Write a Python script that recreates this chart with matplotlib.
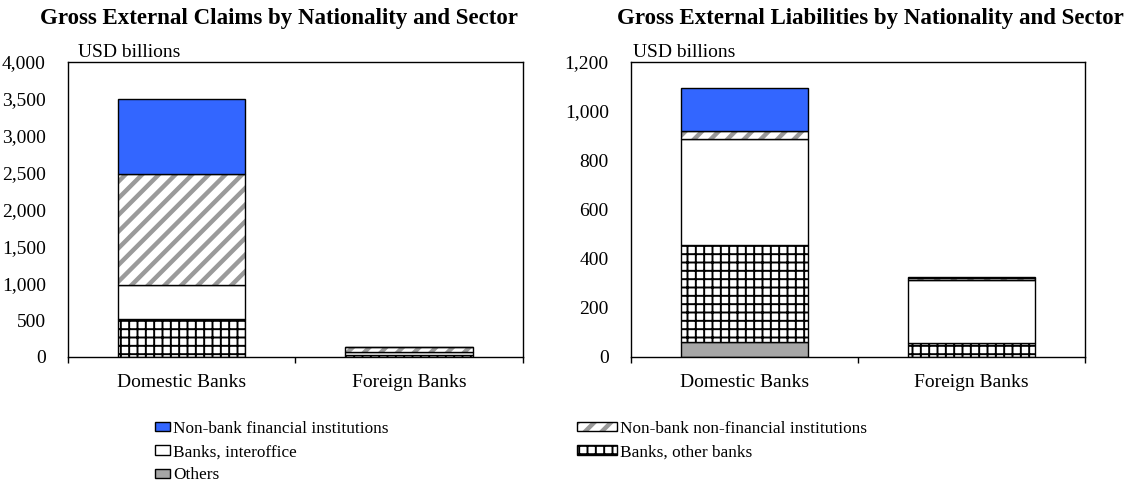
import matplotlib.pyplot as plt
from matplotlib.patches import Patch
import numpy as np

plt.rcParams['font.family'] = ['Liberation Serif', 'DejaVu Serif']

banks = ['Domestic Banks', 'Foreign Banks']
sectors = ['Others', 'Banks, other banks', 'Banks, interoffice',
           'Non-bank non-financial institutions', 'Non-bank financial institutions']

# USD billions, stacked bottom -> top in the order of `sectors`
claims_others = [0, 0]
claims_other_banks = [510, 25]
claims_interoffice = [465, 40]
claims_nonbank_nonfin = [1500, 65]
claims_nonbank_fin = [1025, 0]

liab_others = [60, 0]
liab_other_banks = [395, 58]
liab_interoffice = [430, 257]
liab_nonbank_nonfin = [35, 5]
liab_nonbank_fin = [175, 7]

claims_yticks = np.arange(0, 4001, 500)
liab_yticks = np.arange(0, 1201, 200)

BLUE = '#3366ff'
GREY = '#a6a6a6'
HATCH_GREY = '#9a9a9a'
DIAG_LW = 3.2
GRID_LW = 1.4


def stacked(ax, layers, yticks, usd_x, title_x, title):
    x = np.arange(len(banks))
    bottom = np.zeros(len(banks))
    for name, vals in zip(sectors, layers):
        vals = np.array(vals, dtype=float)
        if name == 'Non-bank non-financial institutions':
            with plt.rc_context({'hatch.linewidth': DIAG_LW}):
                ax.bar(x, vals, 0.56, bottom=bottom, color='white',
                       edgecolor=HATCH_GREY, hatch='//', linewidth=0)
            ax.bar(x, vals, 0.56, bottom=bottom, fill=False,
                   edgecolor='black', linewidth=1)
        elif name == 'Banks, other banks':
            with plt.rc_context({'hatch.linewidth': GRID_LW}):
                ax.bar(x, vals, 0.56, bottom=bottom, color='white',
                       edgecolor='black', hatch='++', linewidth=1)
        else:
            fc = {'Others': GREY, 'Banks, interoffice': 'white',
                  'Non-bank financial institutions': BLUE}[name]
            ax.bar(x, vals, 0.56, bottom=bottom, color=fc,
                   edgecolor='black', linewidth=1)
        bottom += vals

    ax.set_xlim(-0.5, 1.5)
    ax.set_ylim(yticks[0], yticks[-1])
    ax.set_yticks(yticks)
    ax.set_yticklabels([f'{v:,}' for v in yticks])
    ax.tick_params(axis='y', length=0, pad=16, labelsize=14)
    ax.set_xticks(x)
    ax.set_xticklabels(banks)
    ax.tick_params(axis='x', length=0, pad=12, labelsize=14)
    ax.set_xticks([-0.5, 0.5, 1.5], minor=True)
    ax.tick_params(axis='x', which='minor', length=4, width=1, direction='out')
    for s in ax.spines.values():
        s.set_linewidth(1)
    ax.text(usd_x, 1.004, 'USD billions',
            transform=ax.transAxes, fontsize=14, va='bottom', ha='left')
    fig.text(title_x, 0.963, title, fontsize=16.5, fontweight='bold',
             ha='center', va='center')


fig = plt.figure(figsize=(11.34, 4.87), dpi=100)
ax1 = fig.add_axes([0.060, 0.267, 0.401, 0.606])
ax2 = fig.add_axes([0.5564, 0.267, 0.4004, 0.606])

stacked(ax1, [claims_others, claims_other_banks, claims_interoffice,
              claims_nonbank_nonfin, claims_nonbank_fin],
        claims_yticks, 0.022, 279 / 1134,
        'Gross External Claims by Nationality and Sector')
stacked(ax2, [liab_others, liab_other_banks, liab_interoffice,
              liab_nonbank_nonfin, liab_nonbank_fin],
        liab_yticks, 0.004, 870 / 1134,
        'Gross External Liabilities by Nationality and Sector')

h_fin = Patch(facecolor=BLUE, edgecolor='black', linewidth=1)
h_inter = Patch(facecolor='white', edgecolor='black', linewidth=1)
h_oth = Patch(facecolor=GREY, edgecolor='black', linewidth=1)
h_grid = Patch(facecolor='white', edgecolor='black', hatch='++', linewidth=1)
h_diag = (Patch(facecolor='white', edgecolor=HATCH_GREY, hatch='//', linewidth=0),
          Patch(fill=False, edgecolor='black', linewidth=1))

leg_kw = dict(frameon=False, fontsize=12.4, borderpad=0, borderaxespad=0,
              handletextpad=0.2, labelspacing=0.42, handleheight=0.45)
fig.legend([h_fin, h_inter, h_oth],
           ['Non-bank financial institutions', 'Banks, interoffice', 'Others'],
           loc='upper left', bbox_to_anchor=(155 / 1134, 1 - 421 / 487),
           handlelength=0.85, **leg_kw)
leg2 = fig.legend([h_diag, h_grid],
                  ['Non-bank non-financial institutions', 'Banks, other banks'],
                  loc='upper left', bbox_to_anchor=(577 / 1134, 1 - 421 / 487),
                  handlelength=2.3, **leg_kw)

# legend copies of the hatched patches pick up the default hatch width
for p in leg2.findobj(Patch):
    lw = {'//': DIAG_LW, '++': GRID_LW}.get(p.get_hatch())
    if lw is None:
        continue
    if hasattr(p, 'set_hatch_linewidth'):
        p.set_hatch_linewidth(lw)
    else:
        p._hatch_linewidth = lw

fig.savefig('out.png', dpi=100)
